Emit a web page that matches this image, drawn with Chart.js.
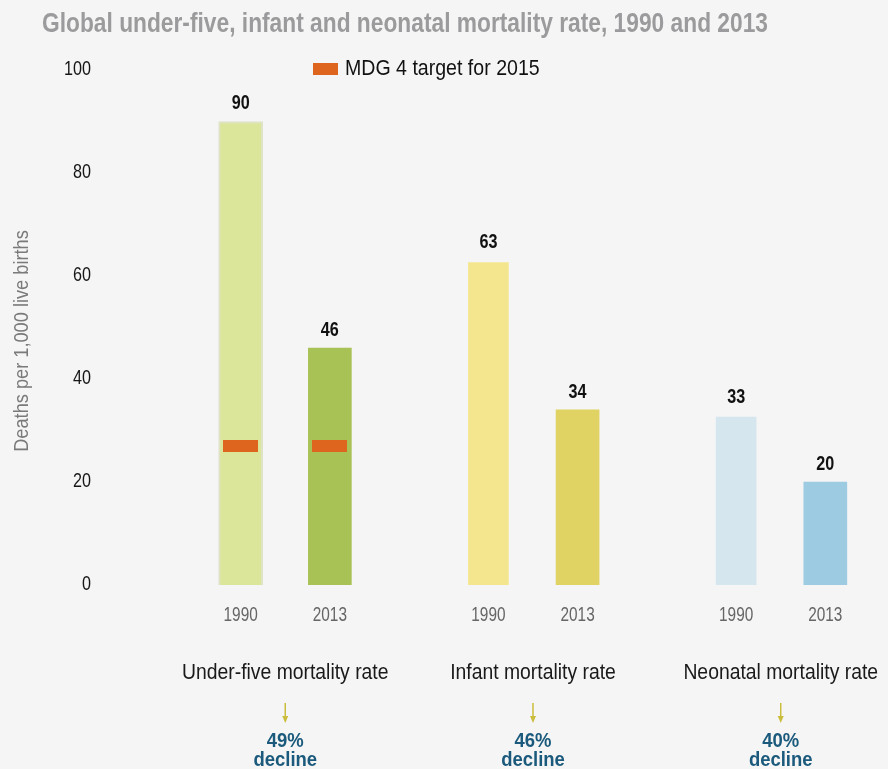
<!DOCTYPE html>
<html>
<head>
<meta charset="utf-8">
<script src="https://cdn.jsdelivr.net/npm/chart.js@4/dist/chart.umd.min.js"></script>
<style>
  html, body { margin: 0; padding: 0; background: #f5f5f5; }
  #wrap { width: 888px; height: 769px; position: relative; }
  canvas { display: block; }
</style>
</head>
<body>
<div id="wrap"><canvas id="c" width="888" height="769"></canvas></div>
<script>
// ---- data ----
const categories = ['Under-five mortality rate', 'Infant mortality rate', 'Neonatal mortality rate'];
const years = ['1990', '2013'];
const values1990 = [90, 63, 33];
const values2013 = [46, 34, 20];
const mdgTarget = [27, null, null];
const declineLabels = ['49%', '46%', '40%'];
const yTicks = [0, 20, 40, 60, 80, 100];

// ---- styles ----
const colors1990 = ['#dbe69a', '#f4e68f', '#d6e6ee'];
const colors2013 = ['#a9c255', '#e0d263', '#9dcbe2'];
const border1990 = ['#dfe3c6', 'rgba(0,0,0,0)', 'rgba(0,0,0,0)'];
const SANS = '"Liberation Sans", Arial, sans-serif';
const HALF_GAP = 0.18;

// draws horizontally condensed text (no condensed font is installed)
function condText(ctx, text, x, y, font, color, align, sx, fitWidth) {
  ctx.save();
  ctx.font = font;
  ctx.fillStyle = color;
  ctx.textBaseline = 'middle';
  ctx.textAlign = 'left';
  const raw = ctx.measureText(text).width;
  if (fitWidth) sx = fitWidth / raw;
  const w = raw * sx;
  let left = x;
  if (align === 'center') left = x - w / 2;
  else if (align === 'right') left = x - w;
  ctx.translate(left, y);
  ctx.scale(sx, 1);
  ctx.fillText(text, 0, 0);
  ctx.restore();
}

const annotations = {
  id: 'annotations',
  afterDatasetsDraw(chart) {
    const ctx = chart.ctx;
    const y = chart.scales.y;
    const metas = [chart.getDatasetMeta(0), chart.getDatasetMeta(1)];
    ctx.save();
    // y tick labels
    yTicks.forEach(v => {
      condText(ctx, String(v), y.right - 3, y.getPixelForValue(v) - 1, '21px ' + SANS, '#161616', 'right', 0.77);
    });
    // MDG target markers
    ctx.fillStyle = '#dd651e';
    mdgTarget.forEach((t, i) => {
      if (t == null) return;
      const py = y.getPixelForValue(t);
      metas.forEach(m => {
        const el = m.data[i];
        ctx.fillRect(Math.round(el.x - 17.5), Math.round(py - 6), 35, 12);
      });
    });
    // value labels + year labels
    metas.forEach((m, d) => {
      const vals = d === 0 ? values1990 : values2013;
      m.data.forEach((el, i) => {
        condText(ctx, String(vals[i]), el.x, el.y - 18, 'bold 21px ' + SANS, '#111', 'center', 0.77);
        condText(ctx, years[d], el.x, 615, '20.5px ' + SANS, '#666', 'center', 0.75);
      });
    });
    // category labels, arrows, decline
    categories.forEach((c, i) => {
      const cx = (metas[0].data[i].x + metas[1].data[i].x) / 2;
      condText(ctx, c, cx, 673, '21.5px ' + SANS, '#1a1a1a', 'center', 0.9);
      ctx.strokeStyle = '#cbbd3c';
      ctx.fillStyle = '#cbbd3c';
      ctx.lineWidth = 1.5;
      ctx.beginPath();
      ctx.moveTo(cx, 703);
      ctx.lineTo(cx, 718);
      ctx.stroke();
      ctx.beginPath();
      ctx.moveTo(cx - 3, 716);
      ctx.lineTo(cx + 3, 716);
      ctx.lineTo(cx, 723);
      ctx.closePath();
      ctx.fill();
      condText(ctx, declineLabels[i], cx, 741, 'bold 21px ' + SANS, '#1b5a7c', 'center', 0.88);
      condText(ctx, 'decline', cx, 760, 'bold 21px ' + SANS, '#1b5a7c', 'center', 0.88);
    });
    // title
    condText(ctx, 'Global under-five, infant and neonatal mortality rate, 1990 and 2013', 42, 25,
      'bold 27px ' + SANS, '#9b9b9d', 'left', 1, 726);
    // legend
    ctx.fillStyle = '#dd651e';
    ctx.fillRect(313, 63, 25, 12);
    condText(ctx, 'MDG 4 target for 2015', 345, 69, '21.5px ' + SANS, '#111', 'left', 0.91);
    // y axis title
    ctx.translate(22, 341);
    ctx.rotate(-Math.PI / 2);
    condText(ctx, 'Deaths per 1,000 live births', 0, 0, '20px ' + SANS, '#7a7a7a', 'center', 0.91);
    ctx.restore();
  }
};

new Chart(document.getElementById('c'), {
  type: 'bar',
  data: {
    datasets: [
      {
        label: years[0],
        data: values1990.map((v, i) => ({ x: i - HALF_GAP, y: v })),
        backgroundColor: colors1990,
        borderColor: border1990,
        borderWidth: 2,
        barThickness: 44,
        grouped: false
      },
      {
        label: years[1],
        data: values2013.map((v, i) => ({ x: i + HALF_GAP, y: v })),
        backgroundColor: colors2013,
        borderWidth: 0,
        barThickness: 43,
        grouped: false
      }
    ]
  },
  options: {
    responsive: false,
    devicePixelRatio: 1,
    animation: false,
    layout: { padding: { top: 70, bottom: 184, left: 0, right: 0 } },
    plugins: {
      legend: { display: false },
      title: { display: false },
      tooltip: { enabled: false }
    },
    scales: {
      x: {
        type: 'linear',
        offset: false,
        min: -0.772,
        max: 2.433,
        display: false
      },
      y: {
        min: 0,
        max: 100,
        afterBuildTicks: s => { s.ticks = yTicks.map(v => ({ value: v })); },
        afterFit: s => { s.width = 94; },
        grid: { display: false },
        border: { display: false },
        ticks: { display: false }
      }
    }
  },
  plugins: [annotations]
});
</script>
</body>
</html>
